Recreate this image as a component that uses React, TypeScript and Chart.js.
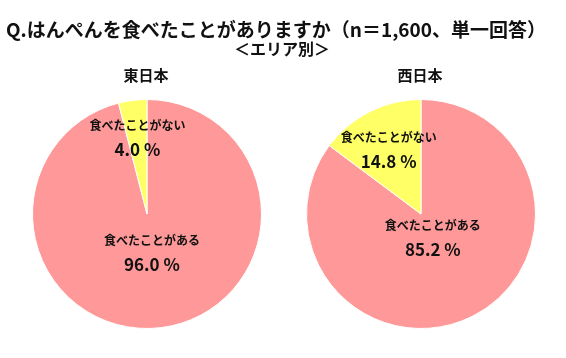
import React, { useEffect, useRef } from "react";
import { Chart, registerables } from "chart.js";

Chart.register(...registerables);

const mainTitle = "Q.はんぺんを食べたことがありますか（n＝1,600、単一回答）";
const subTitle = "＜エリア別＞";
const categories = ["食べたことがある", "食べたことがない"];
const eastTitle = "東日本";
const eastValues = [96.0, 4.0];
const westTitle = "西日本";
const westValues = [85.2, 14.8];
const sliceColors = ["#FF9999", "#FFFF66"];

const FONT = "'Noto Sans CJK JP', 'Noto Sans', sans-serif";

const labelPlugin = {
  id: "sliceLabels",
  afterDatasetsDraw(chart: any, _args: any, opts: any) {
    const ctx = chart.ctx;
    const meta = chart.getDatasetMeta(0);
    const data = chart.data.datasets[0].data as number[];
    const labels = chart.data.labels as string[];
    const factors: number[] = opts.factors || [0.5, 0.5];
    ctx.save();
    ctx.fillStyle = "#111";
    ctx.textAlign = "center";
    ctx.textBaseline = "middle";
    meta.data.forEach((arc: any, i: number) => {
      const p = arc.getProps(["x", "y", "startAngle", "endAngle", "outerRadius"], true);
      const mid = (p.startAngle + p.endAngle) / 2;
      const r = p.outerRadius * factors[i];
      const cx = p.x + Math.cos(mid) * r;
      const cy = p.y + Math.sin(mid) * r;
      ctx.font = `bold 12px ${FONT}`;
      ctx.fillText(labels[i], cx, cy - 12);
      ctx.font = `bold 17px ${FONT}`;
      ctx.fillText(data[i].toFixed(1) + " %", cx, cy + 12);
    });
    ctx.restore();
  },
};

function PieChart({ values, factors }: { values: number[]; factors: number[] }) {
  const ref = useRef<HTMLCanvasElement>(null);
  useEffect(() => {
    const chart = new Chart(ref.current!, {
      type: "pie",
      data: {
        labels: categories,
        datasets: [
          {
            data: values,
            backgroundColor: sliceColors,
            borderColor: "#ffffff",
            borderWidth: 1,
          },
        ],
      },
      options: {
        animation: false,
        responsive: false,
        maintainAspectRatio: false,
        layout: { padding: { top: 99, bottom: 29, left: 0, right: 0 } },
        plugins: {
          legend: { display: false },
          tooltip: { enabled: false },
          sliceLabels: { factors },
        } as any,
      },
      plugins: [labelPlugin],
    });
    return () => chart.destroy();
  }, []);
  return <canvas ref={ref} width={294} height={358} style={{ width: 294, height: 358 }} />;
}

const textStyle: React.CSSProperties = {
  position: "absolute",
  fontFamily: FONT,
  fontWeight: "bold",
  color: "#111",
  whiteSpace: "nowrap",
  transform: "translate(-50%, -50%)",
  lineHeight: 1,
};

export default function App() {
  return (
    <div
      style={{
        position: "fixed",
        left: 0,
        top: 0,
        width: 566,
        height: 358,
        background: "#fff",
        overflow: "hidden",
      }}
    >
      <div style={{ position: "absolute", left: 0, top: 0 }}>
        <PieChart values={eastValues} factors={[0.34, 0.67]} />
      </div>
      <div style={{ position: "absolute", left: 274, top: 0 }}>
        <PieChart values={westValues} factors={[0.23, 0.63]} />
      </div>
      <div style={{ ...textStyle, left: 276, top: 28, fontSize: 19 }}>{mainTitle}</div>
      <div style={{ ...textStyle, left: 282, top: 48, fontSize: 16 }}>{subTitle}</div>
      <div style={{ ...textStyle, left: 146, top: 74, fontSize: 15 }}>{eastTitle}</div>
      <div style={{ ...textStyle, left: 420, top: 74, fontSize: 15 }}>{westTitle}</div>
    </div>
  );
}
